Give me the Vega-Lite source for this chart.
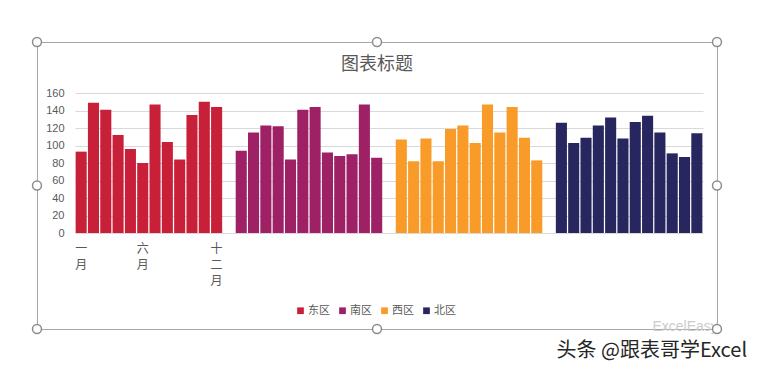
{
  "$schema": "https://vega.github.io/schema/vega-lite/v6.json",
  "width": 680,
  "height": 287,
  "autosize": "none",
  "padding": {"left": 37, "top": 42, "right": 44, "bottom": 42},
  "background": "white",
  "config": {"view": {"stroke": "#a6a6a6", "strokeWidth": 1}, "font": "Noto Sans CJK SC"},
  "title": {"text": "图表标题", "fontSize": 18, "fontWeight": "normal", "color": "#595959", "anchor": "middle", "offset": -48, "baseline": "middle", "font": "Noto Sans CJK SC"},
  "datasets": {
    "bars": [
      {"cat": "东区一月", "region": "东区", "value": 93},
      {"cat": "东区二月", "region": "东区", "value": 149},
      {"cat": "东区三月", "region": "东区", "value": 141},
      {"cat": "东区四月", "region": "东区", "value": 112},
      {"cat": "东区五月", "region": "东区", "value": 96},
      {"cat": "东区六月", "region": "东区", "value": 80},
      {"cat": "东区七月", "region": "东区", "value": 147},
      {"cat": "东区八月", "region": "东区", "value": 104},
      {"cat": "东区九月", "region": "东区", "value": 84},
      {"cat": "东区十月", "region": "东区", "value": 135},
      {"cat": "东区十一月", "region": "东区", "value": 150},
      {"cat": "东区十二月", "region": "东区", "value": 144},
      {"cat": "南区一月", "region": "南区", "value": 94},
      {"cat": "南区二月", "region": "南区", "value": 115},
      {"cat": "南区三月", "region": "南区", "value": 123},
      {"cat": "南区四月", "region": "南区", "value": 122},
      {"cat": "南区五月", "region": "南区", "value": 84},
      {"cat": "南区六月", "region": "南区", "value": 141},
      {"cat": "南区七月", "region": "南区", "value": 144},
      {"cat": "南区八月", "region": "南区", "value": 92},
      {"cat": "南区九月", "region": "南区", "value": 88},
      {"cat": "南区十月", "region": "南区", "value": 90},
      {"cat": "南区十一月", "region": "南区", "value": 147},
      {"cat": "南区十二月", "region": "南区", "value": 86},
      {"cat": "西区一月", "region": "西区", "value": 107},
      {"cat": "西区二月", "region": "西区", "value": 82},
      {"cat": "西区三月", "region": "西区", "value": 108},
      {"cat": "西区四月", "region": "西区", "value": 82},
      {"cat": "西区五月", "region": "西区", "value": 119},
      {"cat": "西区六月", "region": "西区", "value": 123},
      {"cat": "西区七月", "region": "西区", "value": 103},
      {"cat": "西区八月", "region": "西区", "value": 147},
      {"cat": "西区九月", "region": "西区", "value": 115},
      {"cat": "西区十月", "region": "西区", "value": 144},
      {"cat": "西区十一月", "region": "西区", "value": 109},
      {"cat": "西区十二月", "region": "西区", "value": 83},
      {"cat": "北区一月", "region": "北区", "value": 126},
      {"cat": "北区二月", "region": "北区", "value": 103},
      {"cat": "北区三月", "region": "北区", "value": 109},
      {"cat": "北区四月", "region": "北区", "value": 123},
      {"cat": "北区五月", "region": "北区", "value": 132},
      {"cat": "北区六月", "region": "北区", "value": 108},
      {"cat": "北区七月", "region": "北区", "value": 127},
      {"cat": "北区八月", "region": "北区", "value": 134},
      {"cat": "北区九月", "region": "北区", "value": 115},
      {"cat": "北区十月", "region": "北区", "value": 91},
      {"cat": "北区十一月", "region": "北区", "value": 87},
      {"cat": "北区十二月", "region": "北区", "value": 114}
    ],
    "handles": [
      {"hx": 0, "hy": 1}, {"hx": 0.5, "hy": 1}, {"hx": 1, "hy": 1},
      {"hx": 0, "hy": 0.5}, {"hx": 1, "hy": 0.5},
      {"hx": 0, "hy": 0}, {"hx": 0.5, "hy": 0}, {"hx": 1, "hy": 0}
    ]
  },
  "layer": [
    {
      "data": {"name": "bars"},
      "mark": {"type": "bar"},
      "encoding": {
        "x": {
          "field": "cat", "type": "nominal", "sort": null,
          "scale": {
            "domain": ["东区一月","东区二月","东区三月","东区四月","东区五月","东区六月","东区七月","东区八月","东区九月","东区十月","东区十一月","东区十二月","gap1",
                       "南区一月","南区二月","南区三月","南区四月","南区五月","南区六月","南区七月","南区八月","南区九月","南区十月","南区十一月","南区十二月","gap2",
                       "西区一月","西区二月","西区三月","西区四月","西区五月","西区六月","西区七月","西区八月","西区九月","西区十月","西区十一月","西区十二月","gap3",
                       "北区一月","北区二月","北区三月","北区四月","北区五月","北区六月","北区七月","北区八月","北区九月","北区十月","北区十一月","北区十二月"],
            "range": [38, 666], "paddingInner": 0.1, "paddingOuter": 0.05
          },
          "axis": {
            "labelExpr": "datum.value == '东区一月' ? ['一','月'] : datum.value == '东区六月' ? ['六','月'] : datum.value == '东区十二月' ? ['十','二','月'] : ''",
            "labelAngle": 0, "grid": false, "domain": false, "ticks": false, "tickSize": 0,
            "labelPadding": 10, "offset": -96, "labelColor": "#595959", "labelFontSize": 12,
            "labelLineHeight": 16, "labelFont": "Noto Sans CJK SC", "labelOverlap": false, "labelBound": false,
            "title": "头条 @跟表哥学Excel", "titleX": 519, "titleY": 117, "titleAlign": "left", "titleBaseline": "middle",
            "titleFontSize": 20, "titleFontWeight": "normal", "titleColor": "#262626", "titleFont": "Noto Sans CJK SC"
          }
        },
        "y": {
          "field": "value", "type": "quantitative",
          "scale": {"domain": [0, 160], "range": [191, 51], "nice": false},
          "axis": {
            "values": [0, 20, 40, 60, 80, 100, 120, 140, 160],
            "grid": true, "gridColor": "#d9d9d9", "gridWidth": 1, "domain": false, "ticks": false, "tickSize": 0,
            "labelPadding": 6, "offset": -33, "labelColor": "#595959", "labelFont": "Liberation Sans", "labelFontSize": 11,
            "title": "ExcelEasy", "titleAngle": 0, "titleX": 582, "titleY": 284, "titleAlign": "left", "titleBaseline": "middle",
            "titleColor": "#cccccc", "titleFontSize": 14, "titleFontWeight": "normal", "titleFont": "Liberation Sans"
          }
        },
        "color": {
          "field": "region", "type": "nominal",
          "scale": {"domain": ["东区", "南区", "西区", "北区"], "range": ["#C9203A", "#9E2065", "#F89B28", "#28265F"]},
          "legend": {
            "orient": "none", "legendX": 258, "legendY": 263, "direction": "horizontal", "title": null,
            "symbolType": "square", "symbolSize": 45, "symbolStrokeWidth": 0, "labelFontSize": 11,
            "labelColor": "#595959", "labelFont": "Noto Sans CJK SC", "columnPadding": 7, "labelOffset": 2, "padding": 0
          }
        }
      }
    },
    {
      "data": {"name": "handles"},
      "mark": {"type": "point", "shape": "circle", "filled": true, "fill": "white", "stroke": "#8c8c8c", "strokeWidth": 1.5, "size": 80, "opacity": 1, "clip": false},
      "encoding": {
        "x": {"field": "hx", "type": "quantitative", "scale": {"domain": [0, 1], "nice": false, "zero": false}, "axis": null},
        "y": {"field": "hy", "type": "quantitative", "scale": {"domain": [0, 1], "nice": false, "zero": false}, "axis": null}
      }
    }
  ],
  "resolve": {"scale": {"x": "independent", "y": "independent"}}
}
